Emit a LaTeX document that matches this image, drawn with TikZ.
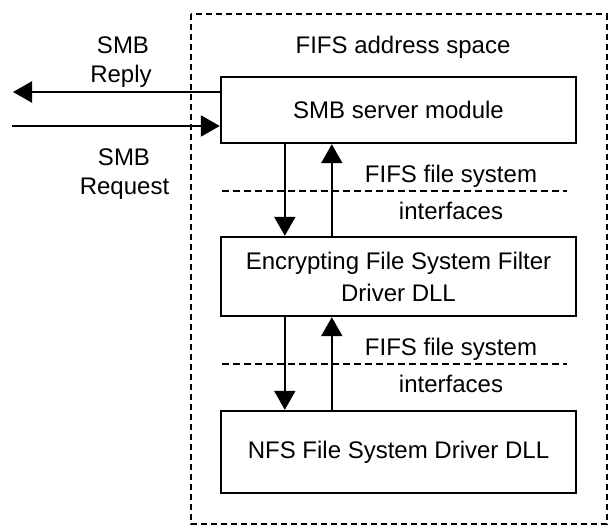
\documentclass[tikz,border=0pt]{standalone}
\usepackage{fontspec}
\setmainfont{Liberation Sans}
\usetikzlibrary{arrows.meta}
\begin{document}
\begin{tikzpicture}[x=1pt,y=-1pt,
  box/.style={draw, line width=2.4pt, minimum width=355pt, inner sep=0pt, align=center,
    font=\fontsize{24}{32}\selectfont},
  arr/.style={line width=2.2pt, -{Triangle[length=19pt,width=21pt]}},
  sep/.style={line width=2pt, dash pattern=on 7pt off 4pt},
  outer/.style={line width=2pt, dash pattern=on 6pt off 4pt},
  lbl/.style={inner sep=0pt, anchor=base, font=\fontsize{24}{29}\selectfont}]
\useasboundingbox (0,0) rectangle (610,527);
% outer dashed frame
\draw[outer] (191,14) rectangle (606.5,524);
% boxes
\node[box, minimum height=66pt] (smb) at (398.5,110) {SMB server module};
\node[box, minimum height=79pt] (enc) at (398.5,276.5) {Encrypting File System Filter\\Driver DLL};
\node[box, minimum height=82pt] (nfs) at (398.5,452) {NFS File System Driver DLL};
% labels
\node[lbl] (space) at (403,53) {FIFS address space};
\node[lbl] (smb1) at (123,53) {SMB};
\node[lbl] (reply) at (121,82) {Reply};
\node[lbl] (smb2) at (124,165) {SMB};
\node[lbl] (request) at (124.5,194) {Request};
\node[lbl] (fifs1) at (451,182) {FIFS file system};
\node[lbl] (intf1) at (451,219) {interfaces};
\node[lbl] (fifs2) at (451,355) {FIFS file system};
\node[lbl] (intf2) at (451,392) {interfaces};
% separators
\draw[sep] (222,191) -- (567,191);
\draw[sep] (222,364) -- (567,364);
% external arrows
\coordinate (replyend) at (13,92);
\coordinate (reqstart) at (12,126);
\draw[arr] ([yshift=18pt]smb.west) -- (replyend);
\draw[arr] (reqstart) -- ([yshift=-16pt]smb.west);
% internal arrows
\draw[arr] ([xshift=65pt]smb.south west) -- ([xshift=65pt]enc.north west);
\draw[arr] ([xshift=112pt]enc.north west) -- ([xshift=112pt]smb.south west);
\draw[arr] ([xshift=65pt]enc.south west) -- ([xshift=65pt]nfs.north west);
\draw[arr] ([xshift=112pt]nfs.north west) -- ([xshift=112pt]enc.south west);
\end{tikzpicture}
\end{document}
